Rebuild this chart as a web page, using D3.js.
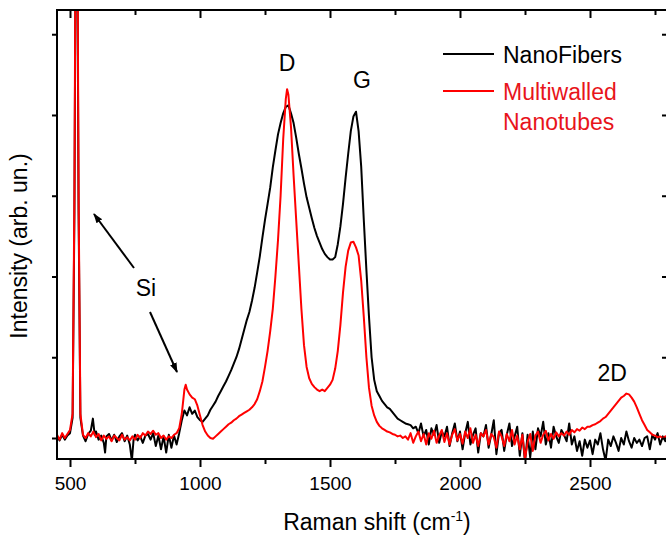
<!DOCTYPE html>
<html>
<head>
<meta charset="utf-8">
<script src="https://cdn.jsdelivr.net/npm/d3@7"></script>
<style>
  body { margin: 0; background: #fff; }
  svg { display: block; font-family: "Liberation Sans", Arial, sans-serif; }
</style>
</head>
<body>
<div id="chart-container"></div>
<script>
// Raman spectra, [shift in cm-1, intensity in arb. units]
const nanoFibers = [
  [450, 2], [460, -3], [470, 4], [480, -2], [490, 3], [500, 6], [510, 25], [517, 280], [521, 560], [525, 2800],
  [529, 560], [533, 280], [540, 25], [550, 3], [560, -4], [570, 5], [580, 9],
  [588, 24], [595, 4], [600, 8], [610, -2], [620, 3], [630, -6], [635, -18], [640, 2], [650, 5], [660, -3],
  [670, 4], [680, -5], [690, 2], [700, 6], [710, -4], [720, 3], [730, -8], [738, -28], [745, 0], [750, 4],
  [760, -3], [770, 2], [780, -6], [790, 3], [800, 5], [810, -2], [820, 6], [830, -10], [840, 3], [850, -14],
  [860, 2], [870, -18], [880, 4], [890, -12], [900, 3], [910, -8], [920, 6], [930, 22], [940, 34], [950, 28],
  [960, 38], [970, 30], [980, 34], [990, 26], [1000, 22], [1010, 20], [1020, 24], [1030, 28], [1040, 35], [1050, 40],
  [1060, 45], [1070, 52], [1080, 58], [1090, 64], [1100, 70], [1110, 77], [1120, 84], [1130, 92], [1140, 100], [1150, 110],
  [1160, 122], [1170, 134], [1180, 146], [1190, 156], [1200, 170], [1210, 186], [1220, 205], [1230, 225], [1240, 248], [1250, 270],
  [1260, 290], [1270, 310], [1280, 335], [1290, 356], [1300, 376], [1310, 390], [1320, 402], [1330, 410], [1340, 412], [1350, 402],
  [1360, 390], [1370, 372], [1380, 352], [1390, 334], [1400, 315], [1410, 298], [1420, 285], [1430, 272], [1440, 260], [1450, 250],
  [1460, 242], [1470, 234], [1480, 228], [1490, 224], [1500, 221], [1510, 221], [1520, 224], [1530, 240], [1540, 262], [1550, 290],
  [1560, 322], [1570, 352], [1580, 380], [1590, 398], [1600, 404], [1610, 380], [1620, 336], [1630, 270], [1640, 208], [1650, 150],
  [1660, 100], [1670, 72], [1680, 58], [1690, 52], [1700, 46], [1710, 42], [1720, 38], [1730, 36], [1740, 32], [1750, 28],
  [1760, 24], [1770, 22], [1780, 20], [1790, 18], [1800, 17], [1810, 16], [1820, 12], [1830, 14], [1840, 6], [1850, 18],
  [1860, 2], [1870, 10], [1880, -8], [1890, 12], [1900, 4], [1910, 16], [1920, -6], [1930, 8], [1940, 2], [1950, 14],
  [1960, -10], [1970, 6], [1980, 18], [1990, -4], [2000, 8], [2010, -14], [2020, 6], [2030, 20], [2040, -8], [2050, 4],
  [2060, 12], [2070, -18], [2080, 6], [2090, 2], [2100, 16], [2110, -12], [2120, 4], [2130, 22], [2140, -20], [2150, 6],
  [2160, 10], [2170, -16], [2180, 4], [2190, 18], [2200, -10], [2210, 2], [2220, 14], [2230, -22], [2240, 6], [2250, -30],
  [2260, 4], [2270, -24], [2280, 8], [2290, -14], [2300, 12], [2310, 2], [2320, 20], [2330, -8], [2340, 6], [2350, -12],
  [2360, 14], [2370, 2], [2380, -6], [2390, 10], [2400, 4], [2410, -4], [2420, 18], [2430, -8], [2440, 2], [2450, -16],
  [2460, -4], [2470, -22], [2480, -2], [2490, -12], [2500, -3], [2510, -20], [2520, -2], [2530, -8], [2540, 6], [2550, -14],
  [2560, -28], [2570, -2], [2580, -10], [2590, 2], [2600, -6], [2610, -16], [2620, 0], [2630, -8], [2640, 8], [2650, -4],
  [2660, -12], [2670, 0], [2680, -6], [2690, -2], [2700, -10], [2710, 0], [2720, 2], [2730, -14], [2740, 4], [2750, -2],
  [2760, 6], [2770, -8], [2780, 2], [2790, -4], [2800, 0]
];

const multiwalledNT = [
  [450, 4], [460, -2], [470, 6], [480, 0], [490, 5], [500, 10], [510, 30], [517, 300], [521, 600], [525, 3000],
  [529, 600], [533, 300], [540, 30], [550, 4], [560, 0], [570, 6], [580, 2],
  [590, 8], [600, 1], [610, 5], [620, -3], [630, 3], [640, -1], [650, 2], [660, -4], [670, 3], [680, 0],
  [690, -3], [700, 4], [710, -2], [720, 1], [730, -3], [740, 2], [750, -2], [760, 4], [770, 0], [780, 6],
  [790, 3], [800, 8], [810, 5], [820, 9], [830, 4], [840, 6], [850, 0], [860, 3], [870, -2], [880, 2],
  [890, 0], [900, 4], [910, 6], [920, 12], [930, 30], [940, 60], [945, 66], [950, 60], [960, 54], [970, 50],
  [980, 48], [990, 40], [1000, 28], [1010, 16], [1020, 8], [1030, 3], [1040, 0], [1050, -1], [1060, 2], [1070, 5],
  [1080, 8], [1090, 11], [1100, 14], [1110, 17], [1120, 19], [1130, 22], [1140, 24], [1150, 27], [1160, 29], [1170, 31],
  [1180, 33], [1190, 35], [1200, 38], [1210, 42], [1220, 48], [1230, 58], [1240, 70], [1250, 88], [1260, 108], [1270, 132],
  [1280, 160], [1290, 200], [1300, 245], [1310, 300], [1320, 370], [1330, 420], [1335, 432], [1340, 425], [1350, 385], [1360, 325],
  [1370, 270], [1380, 215], [1390, 160], [1400, 115], [1410, 88], [1420, 74], [1430, 67], [1440, 63], [1450, 60], [1460, 58],
  [1470, 60], [1480, 58], [1490, 62], [1500, 66], [1510, 72], [1520, 86], [1530, 108], [1540, 140], [1550, 180], [1560, 212],
  [1570, 232], [1580, 242], [1590, 243], [1600, 236], [1610, 226], [1620, 195], [1630, 150], [1640, 100], [1650, 62], [1660, 40],
  [1670, 28], [1680, 20], [1690, 15], [1700, 12], [1710, 10], [1720, 8], [1730, 7], [1740, 5], [1750, 4], [1760, 2],
  [1770, 3], [1780, 0], [1790, 2], [1800, -2], [1810, 6], [1820, -6], [1830, 2], [1840, 8], [1850, -4], [1860, 5],
  [1870, -8], [1880, 6], [1890, -1], [1900, 9], [1910, -6], [1920, 3], [1930, 10], [1940, -5], [1950, 6], [1960, -8],
  [1970, 4], [1980, 11], [1990, -3], [2000, 5], [2010, -7], [2020, 8], [2030, 0], [2040, 12], [2050, -6], [2060, 4],
  [2070, -10], [2080, 6], [2090, 2], [2100, 10], [2110, -8], [2120, 5], [2130, 1], [2140, -12], [2150, 8], [2160, 2],
  [2170, -10], [2180, 5], [2190, -4], [2200, 10], [2210, -8], [2220, 3], [2230, -14], [2240, 4], [2250, -26], [2260, -5],
  [2270, 5], [2280, -16], [2290, 3], [2300, 8], [2310, -6], [2320, 4], [2330, 9], [2340, -3], [2350, 5], [2360, -1],
  [2370, 7], [2380, 2], [2390, 6], [2400, 3], [2410, 8], [2420, 4], [2430, 10], [2440, 7], [2450, 11], [2460, 9],
  [2470, 13], [2480, 11], [2490, 14], [2500, 14], [2510, 16], [2520, 17], [2530, 19], [2540, 21], [2550, 24], [2560, 26],
  [2570, 30], [2580, 34], [2590, 38], [2600, 42], [2610, 46], [2620, 50], [2630, 52], [2640, 55], [2650, 54], [2660, 50],
  [2670, 45], [2680, 38], [2690, 30], [2700, 22], [2710, 16], [2720, 10], [2730, 7], [2740, 4], [2750, 3], [2760, 1],
  [2770, 2], [2780, 0], [2790, 2], [2800, 0]
];

const xMajorTicks = [500, 1000, 1500, 2000, 2500];
const xMinorTicks = [750, 1250, 1750, 2250, 2750];
const yTicks = [0, 100, 200, 300, 400, 500];

const peakLabels = [
  { text: "D", shift: 1335, level: 455 },
  { text: "G", shift: 1623, level: 433 },
  { text: "2D", shift: 2585, level: 70 }
];

const series = [
  { name: "NanoFibers", color: "#000", values: nanoFibers },
  { name: "Multiwalled|Nanotubes", color: "#ff0000", values: multiwalledNT }
];

const width = 666;
const height = 538;
const margin = { top: 10, right: -2, bottom: 79, left: 57 };

const x = d3.scaleLinear()
  .domain([450, 2800])
  .range([margin.left, width - margin.right]);

const y = d3.scaleLinear()
  .domain([-26, 530])
  .range([height - margin.bottom, margin.top]);

const svg = d3.select("#chart-container").append("svg")
  .attr("width", width)
  .attr("height", height);

svg.append("defs").append("clipPath")
  .attr("id", "plot-clip")
  .append("rect")
  .attr("x", margin.left)
  .attr("y", margin.top)
  .attr("width", width - margin.right - margin.left)
  .attr("height", height - margin.bottom - margin.top);

const line = d3.line()
  .x(d => x(d[0]))
  .y(d => y(d[1]));

const plot = svg.append("g").attr("clip-path", "url(#plot-clip)");

series.forEach(s => {
  plot.append("path")
    .datum(s.values)
    .attr("fill", "none")
    .attr("stroke", s.color)
    .attr("stroke-width", 2)
    .attr("stroke-linejoin", "round")
    .attr("d", line);
});

// axes, frame style like Origin: ticks out at bottom/left, in at top/right
const styleAxis = g => {
  g.select(".domain").remove();
  g.selectAll(".tick line").attr("stroke", "#000").attr("stroke-width", 2);
};

const bottom = height - margin.bottom;
const right = width - margin.right;

svg.append("g")
  .attr("transform", `translate(0,${bottom})`)
  .call(d3.axisBottom(x).tickValues(xMajorTicks).tickSize(8).tickPadding(10).tickFormat(d3.format("d")))
  .call(styleAxis)
  .call(g => g.selectAll(".tick text")
    .attr("fill", "#000")
    .style("font-size", "19px")
    .style("font-family", "'Liberation Sans', Arial, sans-serif"));

svg.append("g")
  .attr("transform", `translate(0,${bottom})`)
  .call(d3.axisBottom(x).tickValues(xMinorTicks).tickSize(5).tickFormat(""))
  .call(styleAxis);

svg.append("g")
  .attr("transform", `translate(0,${margin.top})`)
  .call(d3.axisBottom(x).tickValues(xMajorTicks).tickSize(8).tickFormat(""))
  .call(styleAxis);

svg.append("g")
  .attr("transform", `translate(0,${margin.top})`)
  .call(d3.axisBottom(x).tickValues(xMinorTicks).tickSize(5).tickFormat(""))
  .call(styleAxis);

svg.append("g")
  .attr("transform", `translate(${margin.left},0)`)
  .call(d3.axisLeft(y).tickValues(yTicks).tickSize(5).tickFormat(""))
  .call(styleAxis);

svg.append("g")
  .attr("transform", `translate(${right},0)`)
  .call(d3.axisLeft(y).tickValues(yTicks).tickSize(6).tickFormat(""))
  .call(styleAxis);

svg.append("rect")
  .attr("x", margin.left)
  .attr("y", margin.top)
  .attr("width", right - margin.left)
  .attr("height", bottom - margin.top)
  .attr("fill", "none")
  .attr("stroke", "#000")
  .attr("stroke-width", 2);

// axis titles
const xTitle = svg.append("text")
  .attr("x", 377)
  .attr("y", 530)
  .attr("text-anchor", "middle")
  .style("font-size", "23px");
xTitle.append("tspan").text("Raman shift (cm");
xTitle.append("tspan").attr("dy", -9).style("font-size", "14px").text("-1");
xTitle.append("tspan").attr("dy", 9).text(")");

svg.append("text")
  .attr("transform", "rotate(-90)")
  .attr("x", -246)
  .attr("y", 27)
  .attr("text-anchor", "middle")
  .style("font-size", "23px")
  .text("Intensity (arb. un.)");

// peak labels
svg.append("g")
  .selectAll("text")
  .data(peakLabels)
  .join("text")
  .attr("x", d => x(d.shift))
  .attr("y", d => y(d.level))
  .attr("text-anchor", "middle")
  .style("font-size", "23px")
  .text(d => d.text);

// Si annotation with two arrows
svg.append("defs").append("marker")
  .attr("id", "arrow")
  .attr("viewBox", "0 0 10 10")
  .attr("refX", 9)
  .attr("refY", 5)
  .attr("markerWidth", 5)
  .attr("markerHeight", 5)
  .attr("orient", "auto")
  .append("path")
  .attr("d", "M0,1.5 L10,5 L0,8.5 Z")
  .attr("fill", "#000");

svg.append("text")
  .attr("x", 146)
  .attr("y", 296)
  .attr("text-anchor", "middle")
  .style("font-size", "23px")
  .text("Si");

[[134, 268, 94, 214], [150, 312, 177, 372]].forEach(a => {
  svg.append("line")
    .attr("x1", a[0]).attr("y1", a[1])
    .attr("x2", a[2]).attr("y2", a[3])
    .attr("stroke", "#000")
    .attr("stroke-width", 2)
    .attr("marker-end", "url(#arrow)");
});

// legend
const legend = svg.append("g").attr("transform", "translate(443,0)");
series.forEach((s, i) => {
  const ly = 54 + i * 37;
  legend.append("line")
    .attr("x1", 0).attr("x2", 51)
    .attr("y1", ly).attr("y2", ly)
    .attr("stroke", s.color)
    .attr("stroke-width", 2);
  s.name.split("|").forEach((part, j) => {
    legend.append("text")
      .attr("x", 60)
      .attr("y", ly + 9 + j * 30)
      .attr("fill", s.color === "#000" ? "#000" : "#e8141b")
      .style("font-size", "23px")
      .text(part);
  });
});
</script>
</body>
</html>
